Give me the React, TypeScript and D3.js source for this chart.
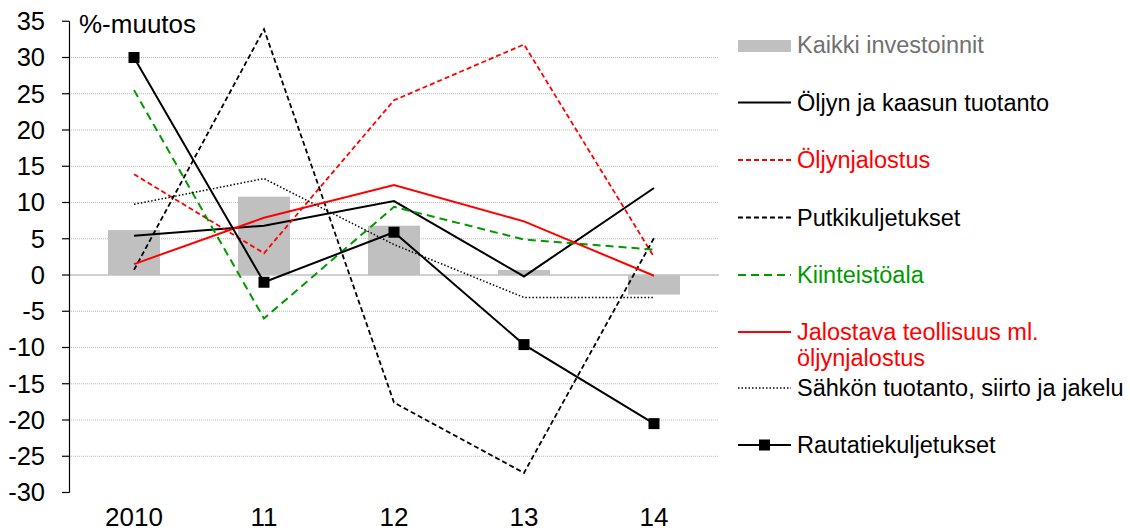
import React from "react";
import * as d3 from "d3";

const categories = ["2010", "11", "12", "13", "14"];
const kaikki = [6.2, 10.8, 6.8, 0.7, -2.7];
const oljyKaasu = [5.4, 6.8, 10.2, -0.2, 12.0];
const oljynjalostus = [13.9, 3.0, 24.1, 31.8, 2.5];
const putki = [0.7, 33.9, -17.6, -27.3, 5.1];
const kiinteisto = [25.5, -6.0, 9.4, 4.9, 3.5];
const jalostava = [1.5, 7.9, 12.4, 7.4, -0.1];
const sahko = [9.75, 13.3, 4.2, -3.1, -3.1];
const rautatie = [30.0, -1.0, 5.9, -9.6, -20.5];
const yTicks = [35, 30, 25, 20, 15, 10, 5, 0, -5, -10, -15, -20, -25, -30];

type Series = {
  name: string[];
  values: number[];
  color: string;
  textColor: string;
  dash?: string;
  width: number;
  marker?: boolean;
};

const lineSeries: Series[] = [
  { name: ["Öljyn ja kaasun tuotanto"], values: oljyKaasu, color: "#000", textColor: "#000", width: 2 },
  { name: ["Öljynjalostus"], values: oljynjalostus, color: "#ff0000", textColor: "#ff0000", dash: "5,3", width: 1.8 },
  { name: ["Putkikuljetukset"], values: putki, color: "#000", textColor: "#000", dash: "5,3", width: 1.8 },
  { name: ["Kiinteistöala"], values: kiinteisto, color: "#009900", textColor: "#009900", dash: "8,5", width: 2 },
  { name: ["Jalostava teollisuus ml.", "öljynjalostus"], values: jalostava, color: "#ff0000", textColor: "#ff0000", width: 2 },
  { name: ["Sähkön tuotanto, siirto ja jakelu"], values: sahko, color: "#000", textColor: "#000", dash: "1.5,2", width: 1.5 },
  { name: ["Rautatiekuljetukset"], values: rautatie, color: "#000", textColor: "#000", width: 2, marker: true },
];

const FONT = "'Liberation Sans', Arial, sans-serif";

export default function App() {
  const W = 1130, H = 531;
  const x = d3.scaleBand<string>().domain(categories).range([69, 719]).padding(0);
  const y = d3.scaleLinear().domain([-30, 35]).range([492.5, 21.25]);
  const cx = (c: string) => (x(c) as number) + x.bandwidth() / 2;
  const barW = x.bandwidth() * 0.4;
  const line = d3
    .line<number>()
    .x((_, i) => cx(categories[i]))
    .y((v) => y(v));

  const legendX1 = 738, legendX2 = 791, legendTextX = 797;
  const legendBaselines = [53, 110.5, 168, 225.5, 283, 340, 396, 453];

  return (
    <svg
      width={W}
      height={H}
      style={{ position: "absolute", left: 0, top: 0, background: "#fff" }}
      fontFamily={FONT}
    >
      {/* gridlines */}
      {yTicks
        .filter((t) => t !== 0 && t !== 35 && t !== -30)
        .map((t) => (
          <line key={"g" + t} x1={69} x2={719} y1={y(t)} y2={y(t)} stroke="#b8b8b8" strokeWidth={1} strokeDasharray="1,1" />
        ))}
      {/* bars */}
      {kaikki.map((v, i) => (
        <rect
          key={"b" + i}
          x={cx(categories[i]) - barW / 2}
          width={barW}
          y={Math.min(y(v), y(0))}
          height={Math.abs(y(v) - y(0))}
          fill="#c0c0c0"
        />
      ))}
      {/* zero line */}
      <line x1={69} x2={719} y1={y(0)} y2={y(0)} stroke="#c0c0c0" strokeWidth={1.5} />
      {/* y axis */}
      <line x1={69.5} x2={69.5} y1={y(35)} y2={y(-30)} stroke="#000" strokeWidth={1.2} />
      {yTicks.map((t) => (
        <g key={"t" + t}>
          <line x1={62} x2={69.5} y1={y(t)} y2={y(t)} stroke="#000" strokeWidth={1.2} />
          <text x={45} y={y(t)} dy="0.35em" textAnchor="end" fontSize={25.5} fill="#000">
            {t}
          </text>
        </g>
      ))}
      {categories.map((c) => (
        <text key={"x" + c} x={cx(c)} y={526} textAnchor="middle" fontSize={26} fill="#000">
          {c}
        </text>
      ))}
      <text x={79} y={33} fontSize={26} fill="#000">
        %-muutos
      </text>
      {/* lines */}
      {lineSeries.map((s, k) => (
        <g key={"l" + k}>
          <path d={line(s.values) || ""} fill="none" stroke={s.color} strokeWidth={s.width} strokeDasharray={s.dash} />
          {s.marker &&
            s.values.map((v, i) => (
              <rect key={i} x={cx(categories[i]) - 5.5} y={y(v) - 5.5} width={11} height={11} fill="#000" />
            ))}
        </g>
      ))}
      {/* legend */}
      <rect x={legendX1} y={40} width={legendX2 - legendX1} height={12} fill="#c0c0c0" />
      <text x={legendTextX} y={legendBaselines[0]} fontSize={23.5} fill="#707070">
        Kaikki investoinnit
      </text>
      {lineSeries.map((s, k) => {
        const base = k < 5 ? legendBaselines[k + 1] : legendBaselines[k + 1];
        const ly = base - 8;
        return (
          <g key={"lg" + k}>
            <line x1={legendX1} x2={legendX2} y1={ly} y2={ly} stroke={s.color} strokeWidth={s.width} strokeDasharray={s.dash} />
            {s.marker && <rect x={(legendX1 + legendX2) / 2 - 5.5} y={ly - 5.5} width={11} height={11} fill="#000" />}
            {s.name.map((n, j) => (
              <text key={j} x={legendTextX} y={base + j * 26} fontSize={23.5} fill={s.textColor}>
                {n}
              </text>
            ))}
          </g>
        );
      })}
    </svg>
  );
}
